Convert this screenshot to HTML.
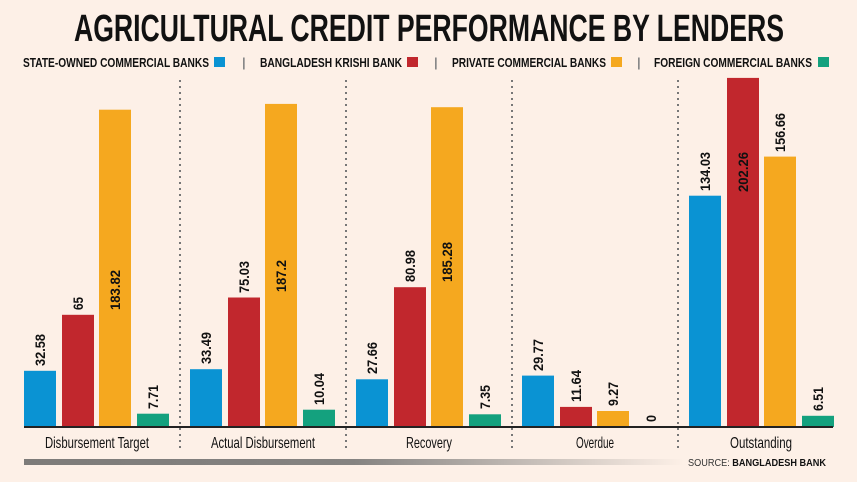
<!DOCTYPE html>
<html><head><meta charset="utf-8"><style>
html,body{margin:0;padding:0;background:#fdf0e7;}
svg{display:block;}
text{font-family:"Liberation Sans Narrow","Liberation Sans",sans-serif;}
</style></head><body>
<svg width="857" height="482" viewBox="0 0 857 482" xmlns="http://www.w3.org/2000/svg">
<defs>
<linearGradient id="g" x1="0" x2="1" y1="0" y2="0">
<stop offset="0" stop-color="#7d7b79"/><stop offset="0.5" stop-color="#858381"/><stop offset="1" stop-color="#fdf0e7"/>
</linearGradient>
</defs>
<rect width="857" height="482" fill="#fdf0e7"/>
<text x="74" y="41" font-size="38" font-weight="bold" fill="#111" textLength="710" lengthAdjust="spacingAndGlyphs">AGRICULTURAL CREDIT PERFORMANCE BY LENDERS</text>
<g font-size="13" font-weight="bold" fill="#111">
<text x="23" y="67" textLength="186" lengthAdjust="spacingAndGlyphs">STATE-OWNED COMMERCIAL BANKS</text>
<rect x="214" y="57" width="11" height="10" fill="#0a93d3"/>
<text x="242" y="67" fill="#888">|</text>
<text x="260" y="67" textLength="142" lengthAdjust="spacingAndGlyphs">BANGLADESH KRISHI BANK</text>
<rect x="407" y="57" width="11" height="10" fill="#c1272d"/>
<text x="434" y="67" fill="#888">|</text>
<text x="452" y="67" textLength="154" lengthAdjust="spacingAndGlyphs">PRIVATE COMMERCIAL BANKS</text>
<rect x="611" y="57" width="11" height="10" fill="#f5a81f"/>
<text x="637" y="67" fill="#888">|</text>
<text x="654" y="67" textLength="158" lengthAdjust="spacingAndGlyphs">FOREIGN COMMERCIAL BANKS</text>
<rect x="818" y="57" width="11" height="10" fill="#14a17e"/>
</g>
<g stroke="#777" stroke-width="2" stroke-dasharray="2,4">
<line x1="180" y1="80" x2="180" y2="452"/>
<line x1="346" y1="80" x2="346" y2="452"/>
<line x1="512" y1="80" x2="512" y2="452"/>
<line x1="678" y1="80" x2="678" y2="452"/>
</g>
<g>
<rect x="24" y="370.8" width="32" height="56.2" fill="#0a93d3"/>
<rect x="62" y="314.8" width="32" height="112.2" fill="#c1272d"/>
<rect x="99" y="109.7" width="32" height="317.3" fill="#f5a81f"/>
<rect x="137" y="413.7" width="32" height="13.3" fill="#14a17e"/>

<rect x="190" y="369.2" width="32" height="57.8" fill="#0a93d3"/>
<rect x="228" y="297.5" width="32" height="129.5" fill="#c1272d"/>
<rect x="265" y="103.9" width="32" height="323.1" fill="#f5a81f"/>
<rect x="303" y="409.7" width="32" height="17.3" fill="#14a17e"/>

<rect x="356" y="379.3" width="32" height="47.7" fill="#0a93d3"/>
<rect x="394" y="287.2" width="32" height="139.8" fill="#c1272d"/>
<rect x="431" y="107.2" width="32" height="319.8" fill="#f5a81f"/>
<rect x="469" y="414.3" width="32" height="12.7" fill="#14a17e"/>

<rect x="522" y="375.6" width="32" height="51.4" fill="#0a93d3"/>
<rect x="560" y="406.9" width="32" height="20.1" fill="#c1272d"/>
<rect x="597" y="411" width="32" height="16" fill="#f5a81f"/>

<rect x="689" y="195.7" width="32" height="231.3" fill="#0a93d3"/>
<rect x="727" y="77.9" width="32" height="349.1" fill="#c1272d"/>
<rect x="764" y="156.6" width="32" height="270.4" fill="#f5a81f"/>
<rect x="802" y="415.8" width="32" height="11.2" fill="#14a17e"/>
</g>
<g font-size="14" font-weight="bold" fill="#111" lengthAdjust="spacingAndGlyphs">
<text transform="translate(45,366) rotate(-90)" textLength="32" lengthAdjust="spacingAndGlyphs">32.58</text>
<text transform="translate(83,310) rotate(-90)" textLength="13" lengthAdjust="spacingAndGlyphs">65</text>
<text transform="translate(120,310) rotate(-90)" textLength="40" lengthAdjust="spacingAndGlyphs">183.82</text>
<text transform="translate(158,409) rotate(-90)" textLength="24" lengthAdjust="spacingAndGlyphs">7.71</text>

<text transform="translate(211,364) rotate(-90)" textLength="32" lengthAdjust="spacingAndGlyphs">33.49</text>
<text transform="translate(249,293) rotate(-90)" textLength="32" lengthAdjust="spacingAndGlyphs">75.03</text>
<text transform="translate(286,292) rotate(-90)" textLength="32" lengthAdjust="spacingAndGlyphs">187.2</text>
<text transform="translate(324,405) rotate(-90)" textLength="32" lengthAdjust="spacingAndGlyphs">10.04</text>

<text transform="translate(377,374) rotate(-90)" textLength="32" lengthAdjust="spacingAndGlyphs">27.66</text>
<text transform="translate(415,282) rotate(-90)" textLength="32" lengthAdjust="spacingAndGlyphs">80.98</text>
<text transform="translate(452,282) rotate(-90)" textLength="40" lengthAdjust="spacingAndGlyphs">185.28</text>
<text transform="translate(490,409) rotate(-90)" textLength="24" lengthAdjust="spacingAndGlyphs">7.35</text>

<text transform="translate(543,371) rotate(-90)" textLength="32" lengthAdjust="spacingAndGlyphs">29.77</text>
<text transform="translate(581,402) rotate(-90)" textLength="32" lengthAdjust="spacingAndGlyphs">11.64</text>
<text transform="translate(618,406) rotate(-90)" textLength="24" lengthAdjust="spacingAndGlyphs">9.27</text>
<text transform="translate(656,422) rotate(-90)" textLength="7" lengthAdjust="spacingAndGlyphs">0</text>

<text transform="translate(710,191) rotate(-90)" textLength="39" lengthAdjust="spacingAndGlyphs">134.03</text>
<text transform="translate(748,192) rotate(-90)" textLength="40" lengthAdjust="spacingAndGlyphs">202.26</text>
<text transform="translate(785,152) rotate(-90)" textLength="39" lengthAdjust="spacingAndGlyphs">156.66</text>
<text transform="translate(823,411) rotate(-90)" textLength="24" lengthAdjust="spacingAndGlyphs">6.51</text>
</g>
<line x1="24" y1="427" x2="833" y2="427" stroke="#222" stroke-width="2"/>
<g font-size="16" fill="#111" text-anchor="middle">
<text x="97" y="448" textLength="104" lengthAdjust="spacingAndGlyphs">Disbursement Target</text>
<text x="263" y="448" textLength="104" lengthAdjust="spacingAndGlyphs">Actual Disbursement</text>
<text x="429" y="448" textLength="46" lengthAdjust="spacingAndGlyphs">Recovery</text>
<text x="595" y="448" textLength="38" lengthAdjust="spacingAndGlyphs">Overdue</text>
<text x="761" y="448" textLength="62" lengthAdjust="spacingAndGlyphs">Outstanding</text>
</g>
<rect x="24" y="459" width="660" height="6" fill="url(#g)"/>
<text x="688" y="466" font-size="10" fill="#333" textLength="138" lengthAdjust="spacingAndGlyphs">SOURCE: <tspan font-weight="bold" fill="#111">BANGLADESH BANK</tspan></text>
</svg>
</body></html>
